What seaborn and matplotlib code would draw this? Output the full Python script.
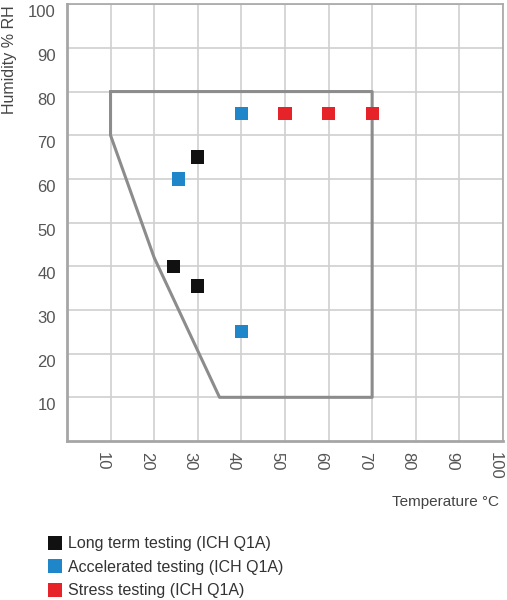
import pandas as pd
import matplotlib.pyplot as plt
import matplotlib.transforms as mtransforms
import seaborn as sns
from matplotlib.lines import Line2D

# test conditions (temperature in °C, humidity in % RH)
long_term_t = [30, 24.5, 30]
long_term_rh = [65, 40, 35.5]

accel_t = [25.5, 40, 40]
accel_rh = [60, 75, 25]

stress_t = [50, 60, 70]
stress_rh = [75, 75, 75]

# climatic zone outline
zone_t = [10, 70, 70, 35, 20, 10, 10]
zone_rh = [80, 80, 10, 10, 42, 70, 80]

labels = ["Long term testing (ICH Q1A)",
          "Accelerated testing (ICH Q1A)",
          "Stress testing (ICH Q1A)"]
colors = ["#111111", "#1f87c9", "#e52329"]

df = pd.DataFrame({
    "Temperature": long_term_t + accel_t + stress_t,
    "Humidity": long_term_rh + accel_rh + stress_rh,
    "Test": [labels[0]] * 3 + [labels[1]] * 3 + [labels[2]] * 3,
})

sns.set_style("white")
plt.rcParams["font.family"] = ["Liberation Sans", "DejaVu Sans"]

fig = plt.figure(figsize=(5.07, 6.0), dpi=100)
ax = fig.add_axes([0.132, 0.265, 0.860, 0.728])

sns.lineplot(x=zone_t, y=zone_rh, sort=False, estimator=None,
             color="#8c8c8c", linewidth=2.2, ax=ax, zorder=3)
sns.scatterplot(data=df, x="Temperature", y="Humidity", hue="Test",
                palette=colors, marker="s", s=90, linewidth=0,
                legend=False, ax=ax, zorder=4)

ax.set_xlim(0, 100)
ax.set_ylim(0, 100)
ax.set_xticks(range(10, 101, 10))
ax.set_yticks(range(10, 101, 10))
ax.grid(True, color="#cfcfcf", linewidth=1.2)
for side, sp in ax.spines.items():
    sp.set_color("#a6a6a6")
    sp.set_linewidth(2.0 if side in ("left", "bottom") else 1.2)

ax.tick_params(axis="x", labelrotation=-90, labelsize=12, labelcolor="#555555",
               length=0, pad=8)
ax.tick_params(axis="y", labelsize=12, labelcolor="#555555", length=0, pad=8)

# labels in the original sit a little off their grid lines
dx = mtransforms.ScaledTranslation(-0.08, 0, fig.dpi_scale_trans)
dy = mtransforms.ScaledTranslation(0, -0.07, fig.dpi_scale_trans)
for t in ax.get_xticklabels():
    t.set_verticalalignment("top")
    t.set_transform(t.get_transform() + dx)
for t in ax.get_yticklabels():
    t.set_transform(t.get_transform() + dy)

ax.set_xlabel("")
ax.set_ylabel("")
fig.text(10 / 507, 1 - 5 / 600, "Humidity % RH", rotation=90, ha="center",
         va="top", fontsize=11.5, color="#444444")

fig.text(0.985, 0.163, "Temperature °C", ha="right", va="center",
         fontsize=11, color="#444444")

handles = [Line2D([], [], marker="s", linestyle="", markersize=9.5,
                  markerfacecolor=c, markeredgewidth=0) for c in colors]
fig.legend(handles, labels, loc="upper left", bbox_to_anchor=(0.093, 0.106),
           frameon=False, fontsize=11.5, handletextpad=0.3, labelspacing=0.53,
           handlelength=1.0, borderaxespad=0, borderpad=0,
           labelcolor="#333333")

fig.savefig("out.png", dpi=100)
